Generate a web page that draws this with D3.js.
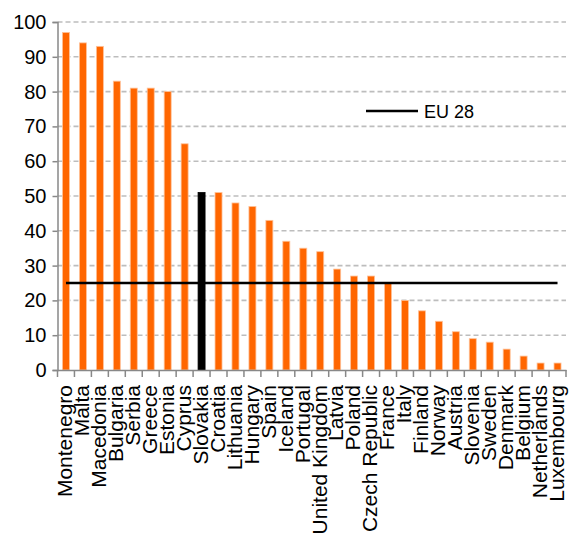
<!DOCTYPE html>
<html>
<head>
<meta charset="utf-8">
<script src="https://cdn.jsdelivr.net/npm/d3@7"></script>
<style>
  body { margin: 0; background: #fff; }
  svg text { font-family: "Liberation Sans", Arial, sans-serif; fill: #000; }
</style>
</head>
<body>
<div id="chart"></div>
<script>
/* ===== Data ===== */

const countries = [
  "Montenegro", "Malta", "Macedonia", "Bulgaria", "Serbia", "Greece", "Estonia",
  "Cyprus", "Slovakia", "Croatia", "Lithuania", "Hungary", "Spain", "Iceland",
  "Portugal", "United Kingdom", "Latvia", "Poland", "Czech Republic", "France",
  "Italy", "Finland", "Norway", "Austria", "Slovenia", "Sweden", "Denmark",
  "Belgium", "Netherlands", "Luxembourg"
];

const values = [
  97, 94, 93, 83, 81, 81, 80, 65, 51, 51, 48, 47, 43, 37, 35, 34, 29, 27, 27, 25,
  20, 17, 14, 11, 9, 8, 6, 4, 2, 2
];

const highlight = "Slovakia";
const euName = "EU 28";
const euValue = 25;
const yTicks = [0, 10, 20, 30, 40, 50, 60, 70, 80, 90, 100];

/* ===== Layout ===== */

const W = 570, H = 540;
const margin = { top: 22, right: 4, bottom: 170, left: 57.5 };
const width = W - margin.left - margin.right;
const height = 370 - margin.top;

const svg = d3.select("#chart").append("svg")
  .attr("width", W)
  .attr("height", H);

const g = svg.append("g")
  .attr("transform", `translate(${margin.left},${margin.top})`);

/* ===== Scales ===== */

const x = d3.scaleBand()
  .domain(countries)
  .range([0, width])
  .padding(0);

const y = d3.scaleLinear()
  .domain([0, 100])
  .range([height, 0]);

/* ===== Grid ===== */

g.append("g")
  .selectAll("line")
  .data(yTicks.filter(d => d > 0))
  .enter()
  .append("line")
  .attr("x1", 0)
  .attr("x2", width)
  .attr("y1", d => y(d))
  .attr("y2", d => y(d))
  .attr("stroke", "#bdbdbd")
  .attr("stroke-width", 1.6)
  .attr("stroke-dasharray", "5,3");

/* ===== Bars ===== */

const barW = 7;

g.selectAll(".bar")
  .data(countries)
  .enter()
  .append("rect")
  .attr("x", d => x(d) + x.bandwidth() / 2 - barW / 2)
  .attr("y", (d, i) => y(values[i]))
  .attr("width", barW)
  .attr("height", (d, i) => height - y(values[i]))
  .attr("fill", d => d === highlight ? "#000" : "#ff6600")
  .attr("stroke", d => d === highlight ? "#000" : "#ffc299")
  .attr("stroke-width", 0.8);

/* ===== EU line ===== */

const first = countries[0], last = countries[countries.length - 1];
g.append("line")
  .attr("x1", x(first) + x.bandwidth() / 2)
  .attr("x2", x(last) + x.bandwidth() / 2)
  .attr("y1", y(euValue))
  .attr("y2", y(euValue))
  .attr("stroke", "#000")
  .attr("stroke-width", 2.5);

/* ===== Axes ===== */

const yAxis = g.append("g")
  .call(d3.axisLeft(y).tickValues(yTicks).tickSize(5).tickPadding(6));
yAxis.selectAll("text").style("font-size", "20px");
yAxis.selectAll("line").attr("stroke", "#888").attr("stroke-width", 1.5);
yAxis.select(".domain").attr("stroke", "#888").attr("stroke-width", 1.5);

const xAxis = g.append("g")
  .attr("transform", `translate(0,${height})`)
  .call(d3.axisBottom(x).tickSize(0).tickPadding(0));
xAxis.select(".domain").attr("stroke", "#888").attr("stroke-width", 1.5);
xAxis.selectAll("text")
  .style("font-size", "21px")
  .style("text-anchor", "end")
  .attr("transform", "rotate(-90)")
  .attr("x", -15)
  .attr("y", 0)
  .attr("dy", "0.3em");

// tick marks between categories
const edges = countries.map(d => x(d)).concat([x(last) + x.bandwidth()]);
xAxis.selectAll(".edge")
  .data(edges)
  .enter()
  .append("line")
  .attr("x1", d => d)
  .attr("x2", d => d)
  .attr("y1", 0)
  .attr("y2", 7)
  .attr("stroke", "#888")
  .attr("stroke-width", 1.5);

/* ===== Legend ===== */

const lg = svg.append("g").attr("transform", "translate(366,111)");
lg.append("line")
  .attr("x1", 0).attr("x2", 52)
  .attr("y1", 0).attr("y2", 0)
  .attr("stroke", "#000")
  .attr("stroke-width", 2.5);
lg.append("text")
  .attr("x", 58)
  .attr("y", 7)
  .style("font-size", "18px")
  .text(euName);
</script>
</body>
</html>
